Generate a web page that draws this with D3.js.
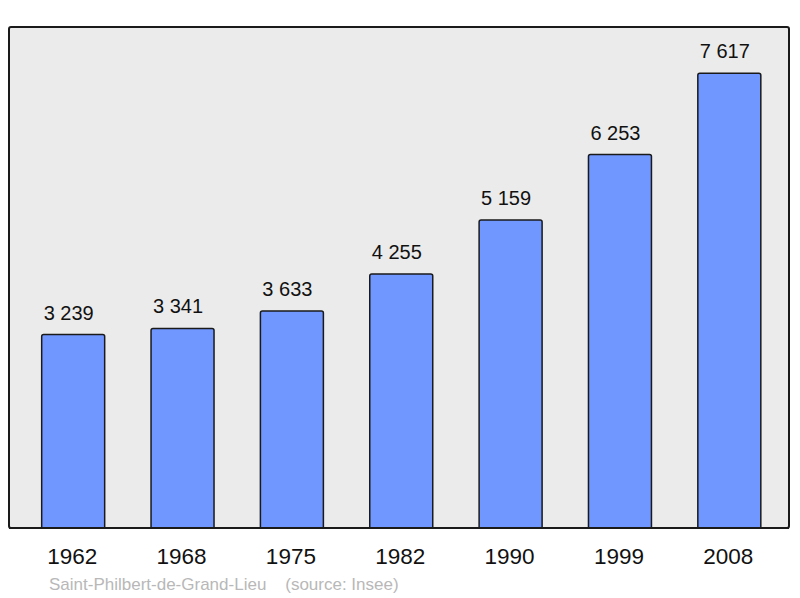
<!DOCTYPE html>
<html><head><meta charset="utf-8">
<script src="https://cdn.jsdelivr.net/npm/d3@7"></script>
<style>body{margin:0;background:#fff}svg{display:block}</style>
</head><body>
<script>
const years = ["1962","1968","1975","1982","1990","1999","2008"];
const population = [3239,3341,3633,4255,5159,6253,7617];
const labels = ["3 239","3 341","3 633","4 255","5 159","6 253","7 617"];
const sourceText = "Saint-Philbert-de-Grand-Lieu    (source: Insee)";

const W=800,H=598;
const svg=d3.select("body").append("svg").attr("width",W).attr("height",H);
const panel={x0:9,x1:789,y0:27,y1:528};
svg.append("rect").attr("x",panel.x0).attr("y",panel.y0)
  .attr("width",panel.x1-panel.x0).attr("height",panel.y1-panel.y0)
  .attr("rx",2).attr("fill","#ebebeb").attr("stroke","#1a1a1a").attr("stroke-width",2);

const x=d3.scaleBand().domain(years).range([18.5,784]).paddingInner(0.424).paddingOuter(0.212);
const y=d3.scaleLinear().domain([0,8390]).range([528,27]);

const g=svg.append("g");
g.selectAll("path.bar").data(population).enter().append("path")
  .attr("d",(d,i)=>{const x0=x(years[i]),w=x.bandwidth(),yt=y(d),yb=y(0),r=2;
    return `M${x0},${yb}V${yt+r}Q${x0},${yt} ${x0+r},${yt}H${x0+w-r}Q${x0+w},${yt} ${x0+w},${yt+r}V${yb}`;})
  .attr("fill","#7096ff").attr("stroke","#1a1a1a").attr("stroke-width",1.5);

g.selectAll("text.val").data(population).enter().append("text")
  .attr("x",(d,i)=>x(years[i])+x.bandwidth()/2-4.5).attr("y",d=>y(d)-15)
  .attr("text-anchor","middle").attr("font-family","Liberation Sans, Arial, sans-serif")
  .attr("font-size",20).attr("fill","#111").text((d,i)=>labels[i]);

svg.append("line").attr("x1",panel.x0).attr("x2",panel.x1).attr("y1",panel.y1).attr("y2",panel.y1)
  .attr("stroke","#1a1a1a").attr("stroke-width",2);

const ax=d3.axisBottom(x).tickSize(0).tickPadding(0);
const axg=svg.append("g").attr("transform","translate(-1,548)").call(ax);
axg.select(".domain").remove();
axg.selectAll("text").attr("font-family","Liberation Sans, Arial, sans-serif").attr("font-size",22.5).attr("fill","#111").attr("dy","0.71em");

svg.append("text").attr("x",49).attr("y",590).attr("font-family","Liberation Sans, Arial, sans-serif")
  .attr("font-size",17).attr("fill","#b8b8b8").attr("xml:space","preserve").style("white-space","pre").text(sourceText);
</script>
</body></html>
